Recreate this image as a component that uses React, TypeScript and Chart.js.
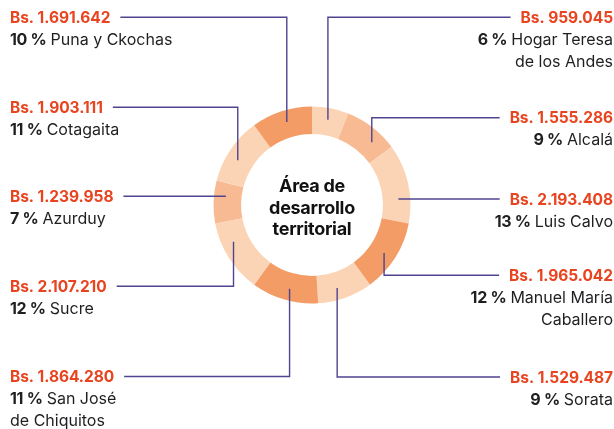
import React, { useEffect, useRef } from 'react';
import { Chart, registerables } from 'chart.js';

Chart.register(...registerables);

// ---- data ----
const districts = [
  'Hogar Teresa de los Andes',
  'Alcalá',
  'Luis Calvo',
  'Manuel María Caballero',
  'Sorata',
  'San José de Chiquitos',
  'Sucre',
  'Azurduy',
  'Cotagaita',
  'Puna y Ckochas',
];
const amounts = [959045, 1555286, 2193408, 1965042, 1529487, 1864280, 2107210, 1239958, 1903111, 1691642];
const percents = [6, 9, 13, 12, 9, 11, 12, 7, 11, 10];
const centerTitle = ['Área de', 'desarrollo', 'territorial'];

// how each district name wraps in its label
const nameLines = [
  ['Hogar Teresa', 'de los Andes'],
  ['Alcalá'],
  ['Luis Calvo'],
  ['Manuel María', 'Caballero'],
  ['Sorata'],
  ['San José', 'de Chiquitos'],
  ['Sucre'],
  ['Azurduy'],
  ['Cotagaita'],
  ['Puna y Ckochas'],
];

// ---- styling / layout ----
const DARK = '#F39C66';
const MID = '#F8BA93';
const LIGHT = '#FBD4B6';
const segColors = [LIGHT, MID, LIGHT, DARK, LIGHT, DARK, LIGHT, MID, LIGHT, DARK];

const labelSide = ['right', 'right', 'right', 'right', 'right', 'left', 'left', 'left', 'left', 'left'];
const labelBaseline = [22.7, 123.3, 204.5, 280.7, 382.5, 382, 291.7, 201.7, 112.7, 22.7];
// where along each arc the leader line touches (null = straight horizontal line)
const anchorFrac: (number | null)[] = [0.49, 0.68, null, 0.53, 0.59, 0.47, 0.67, null, 0.42, 0.53];

const FONT = 'Inter, "Noto Sans", sans-serif';
const VALUE_COLOR = '#E8441F';
const TEXT_COLOR = '#1f1f22';
const LINE_COLOR = '#4F4490';
const LEFT_X = 10;
const RIGHT_X = 613;
const GAP = 10;
const LINE_H = 22;

function formatBs(n: number): string {
  return 'Bs. ' + String(n).replace(/\B(?=(\d{3})+(?!\d))/g, '.');
}

const calloutPlugin = {
  id: 'callouts',
  afterDraw(chart: any) {
    const ctx: CanvasRenderingContext2D = chart.ctx;
    const meta = chart.getDatasetMeta(0);
    ctx.save();
    let cx = 0;
    let cy = 0;
    meta.data.forEach((arc: any, i: number) => {
      const p = arc.getProps(['x', 'y', 'startAngle', 'endAngle', 'innerRadius', 'outerRadius'], true);
      cx = p.x;
      cy = p.y;
      const r = p.innerRadius + 0.57 * (p.outerRadius - p.innerRadius);
      const side = labelSide[i];
      const base = labelBaseline[i];
      const lineY = base - 5.5;

      // amount
      ctx.font = `bold 15.5px ${FONT}`;
      ctx.letterSpacing = '-0.05px';
      const valueText = formatBs(amounts[i]);
      const vw = ctx.measureText(valueText).width;
      ctx.fillStyle = VALUE_COLOR;
      ctx.textBaseline = 'alphabetic';
      ctx.textAlign = 'left';
      const vx = side === 'left' ? LEFT_X : RIGHT_X - vw;
      ctx.fillText(valueText, vx, base);

      // percent + name lines
      const lines = nameLines[i];
      lines.forEach((ln, k) => {
        const y = base + LINE_H * (k + 1);
        ctx.fillStyle = TEXT_COLOR;
        if (k === 0) {
          const pct = `${percents[i]} %`;
          ctx.font = `bold 16px ${FONT}`;
          ctx.letterSpacing = '-0.3px';
          const pw = ctx.measureText(pct).width + 4;
          ctx.font = `16px ${FONT}`;
          ctx.letterSpacing = '0px';
          const nw = ctx.measureText(ln).width;
          const sx = side === 'left' ? LEFT_X : RIGHT_X - pw - nw;
          ctx.font = `bold 16px ${FONT}`;
          ctx.letterSpacing = '-0.3px';
          ctx.fillText(pct, sx, y);
          ctx.font = `16px ${FONT}`;
          ctx.letterSpacing = '0px';
          ctx.fillText(ln, sx + pw, y);
        } else {
          ctx.font = `16px ${FONT}`;
          ctx.letterSpacing = '0px';
          const nw = ctx.measureText(ln).width;
          const sx = side === 'left' ? LEFT_X : RIGHT_X - nw;
          ctx.fillText(ln, sx, y);
        }
      });

      // leader line
      let ax: number;
      let ay: number;
      const frac = anchorFrac[i];
      if (frac == null) {
        ay = lineY;
        const dy = lineY - p.y;
        ax = p.x + (side === 'left' ? -1 : 1) * Math.sqrt(Math.max(0, r * r - dy * dy));
      } else {
        const a = p.startAngle + frac * (p.endAngle - p.startAngle);
        ax = p.x + r * Math.cos(a);
        ay = p.y + r * Math.sin(a);
      }
      const lx = side === 'left' ? LEFT_X + vw + GAP : RIGHT_X - vw - GAP;
      ctx.beginPath();
      ctx.strokeStyle = LINE_COLOR;
      ctx.lineWidth = 1.4;
      ctx.moveTo(lx, lineY);
      ctx.lineTo(ax, lineY);
      ctx.lineTo(ax, ay);
      ctx.stroke();
    });

    // center title
    ctx.font = `bold 18px ${FONT}`;
    ctx.letterSpacing = '-0.3px';
    ctx.fillStyle = '#111';
    ctx.textAlign = 'center';
    ctx.textBaseline = 'alphabetic';
    centerTitle.forEach((t, k) => {
      ctx.fillText(t, cx, cy - 13 + k * 21.5);
    });
    ctx.restore();
  },
};

export default function App() {
  const ref = useRef<HTMLCanvasElement>(null);
  useEffect(() => {
    const chart = new Chart(ref.current as HTMLCanvasElement, {
      type: 'doughnut',
      data: {
        labels: districts,
        datasets: [
          {
            data: percents,
            backgroundColor: segColors,
            borderWidth: 0,
          },
        ],
      },
      options: {
        responsive: false,
        animation: false,
        cutout: '72%',
        layout: { padding: { left: 213.5, right: 203.5, top: 106.5, bottom: 125.5 } },
        plugins: { legend: { display: false }, tooltip: { enabled: false } },
        events: [],
      },
      plugins: [calloutPlugin],
    } as any);
    return () => chart.destroy();
  }, []);
  return (
    <div style={{ position: 'fixed', left: 0, top: 0, width: 614, height: 429, background: '#fff' }}>
      <canvas ref={ref} width={614} height={429} style={{ display: 'block' }} />
    </div>
  );
}
